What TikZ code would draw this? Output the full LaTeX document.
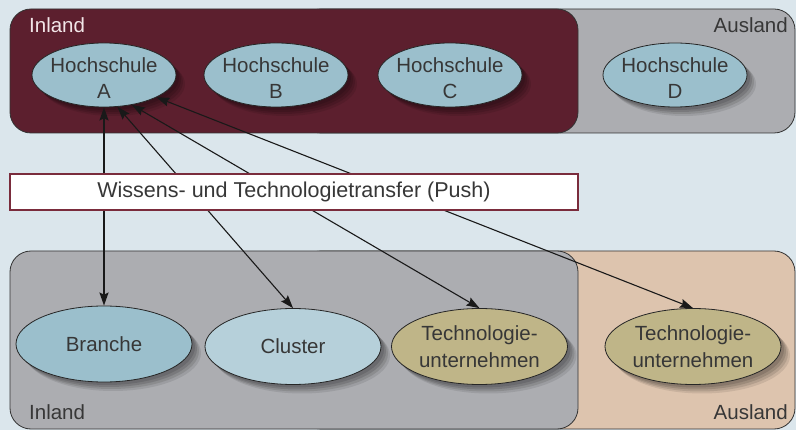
\documentclass[tikz,border=0pt]{standalone}
\usepackage{fontspec}
\setmainfont{Liberation Sans}
\usetikzlibrary{shapes.geometric,arrows.meta,shadows}
\definecolor{bg}{RGB}{219,230,236}
\definecolor{maroon}{RGB}{92,31,46}
\definecolor{gbox}{RGB}{172,173,177}
\definecolor{peach}{RGB}{221,196,174}
\definecolor{hs}{RGB}{155,191,204}
\definecolor{cl}{RGB}{182,208,218}
\definecolor{tech}{RGB}{191,181,136}
\definecolor{txt}{RGB}{55,55,55}
\definecolor{lighttxt}{RGB}{242,230,232}
\definecolor{pushborder}{RGB}{122,44,60}
\tikzset{
  myTip/.tip={Stealth[length=13pt,width=9pt,inset=2pt]},
  region/.style={draw=black!80, line width=0.8pt, rounded corners=21pt},
  ellshadow/.style={
    general shadow={fill=black,opacity=0.12,shadow xshift=3pt,shadow yshift=-3pt},
    general shadow={fill=black,opacity=0.12,shadow xshift=5pt,shadow yshift=-5pt},
    general shadow={fill=black,opacity=0.11,shadow xshift=7pt,shadow yshift=-7pt},
    general shadow={fill=black,opacity=0.09,shadow xshift=9pt,shadow yshift=-9pt}},
  ell/.style={ellipse, draw=black!85, line width=0.8pt, inner sep=-10pt, align=center,
    text=txt, ellshadow},
  hsnode/.style={ell, fill=hs, minimum width=144pt, minimum height=64pt},
  bignode/.style={ell, minimum width=176pt, minimum height=76pt},
  lbl/.style={text=txt, inner sep=0pt},
  arr/.style={line width=1.1pt, draw=black!90, myTip-myTip},
  darr/.style={line width=1.8pt, draw=black!90, myTip-myTip},
}
\newcommand{\hsstrut}{\rule{0pt}{21pt}}
\begin{document}
\begin{tikzpicture}[x=1pt,y=-1pt,font=\fontsize{20.5}{26.6}\selectfont]
\useasboundingbox (0,0) rectangle (796,430);
\fill[bg] (0,0) rectangle (796,430);
% top regions
\draw[region, fill=gbox] (300,9) rectangle (795,133);
\draw[region, fill=maroon] (10,9) rectangle (578,133);
% bottom regions
\draw[region, fill=peach] (300,251) rectangle (795,429);
\draw[region, fill=gbox] (10,251) rectangle (578,429);
% region labels
\node[lbl, text=lighttxt, anchor=base west] (tin) at (29,33) {Inland};
\node[lbl, anchor=base east] (taus) at (788,33) {Ausland};
\node[lbl, anchor=base west] (bin) at (29,420) {Inland};
\node[lbl, anchor=base east] (baus) at (788,420) {Ausland};
% top ellipses
\node[hsnode] (A) at (104,75) {\hsstrut Hochschule\\A};
\node[hsnode] (B) at (276,75) {\hsstrut Hochschule\\B};
\node[hsnode] (C) at (450,75) {\hsstrut Hochschule\\C};
\node[hsnode] (D) at (675,75) {\hsstrut Hochschule\\D};
% bottom ellipses
\node[bignode, fill=hs] (Br) at (104,344) {Branche};
\node[bignode, fill=cl] (Cl) at (293,346.5) {Cluster};
\node[bignode, fill=tech] (T1) at (479.5,346.5) {Technologie-\\unternehmen};
\node[bignode, fill=tech] (T2) at (693,346.5) {Technologie-\\unternehmen};
% connectors
\draw[darr] (A) -- (Br);
\draw[arr] (A.-67) -- (Cl.north);
\draw[arr] (A.-47.5) -- (T1.north);
\draw[arr] (A.-23.8) -- (T2.north);
% push box
\node[draw=pushborder, line width=1.2pt, fill=white, minimum width=568pt, minimum height=36pt,
  inner sep=0pt, text=txt, font=\fontsize{21.5}{26}\selectfont] (push) at (294,192) {Wissens- und Technologietransfer (Push)};
\end{tikzpicture}
\end{document}
